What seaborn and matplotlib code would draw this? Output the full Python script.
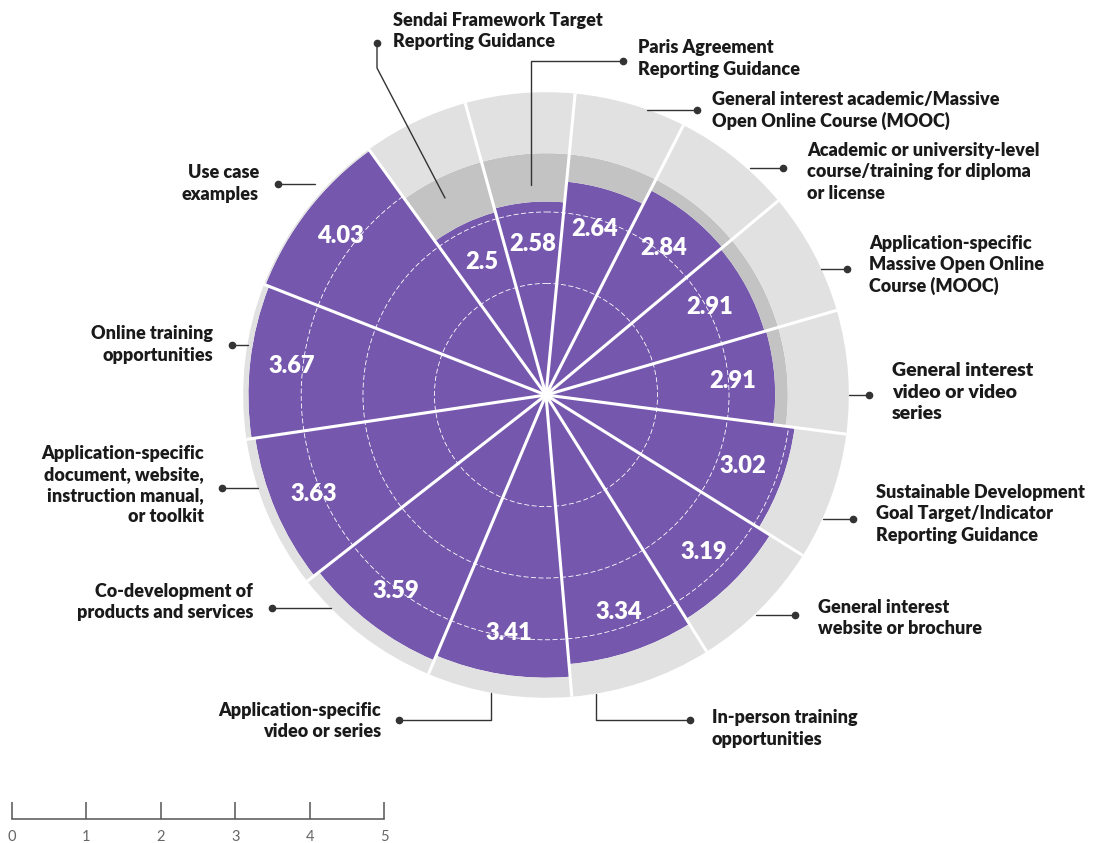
import numpy as np
import pandas as pd
import seaborn as sns
import matplotlib.pyplot as plt

# wedges clockwise from the top-left one
categories = [
    "Sendai Framework Target\nReporting Guidance",
    "Paris Agreement\nReporting Guidance",
    "General interest academic/Massive\nOpen Online Course (MOOC)",
    "Academic or university-level\ncourse/training for diploma\nor license",
    "Application-specific\nMassive Open Online\nCourse (MOOC)",
    "General interest\nvideo or video\nseries",
    "Sustainable Development\nGoal Target/Indicator\nReporting Guidance",
    "General interest\nwebsite or brochure",
    "In-person training\nopportunities",
    "Application-specific\nvideo or series",
    "Co-development of\nproducts and services",
    "Application-specific\ndocument, website,\ninstruction manual,\nor toolkit",
    "Online training\nopportunities",
    "Use case\nexamples",
]
scores = [2.5, 2.58, 2.64, 2.84, 2.91, 2.91, 3.02, 3.19, 3.34, 3.41, 3.59, 3.63, 3.67, 4.03]
# radial extent of each purple wedge (scale-bar units)
reach = [2.55, 2.60, 2.88, 3.09, 3.06, 3.08, 3.37, 3.55, 3.63, 3.80, 3.87, 3.95, 4.00, 4.05]
band_dark = 3.25     # darker gray ring
band_light = 4.07    # outer light gray ring
grid_levels = [1.5, 2.46, 3.29]
scale_ticks = [0, 1, 2, 3, 4, 5]

PURPLE = "#7557ae"
DARK = "#c3c3c3"
LIGHT = "#e1e1e1"
INK = "#1a1a1a"

sns.set_theme(style="white")
plt.rcParams['font.family'] = ['Lato', 'DejaVu Sans']

W, H = 1093, 843
CX, CY = 546, 395
PX = 74.4            # pixels per unit
RMAX = 4.1

fig = plt.figure(figsize=(W / 100, H / 100), dpi=100)
fig.patch.set_facecolor("white")

rpx = RMAX * PX
ax = fig.add_axes([(CX - rpx) / W, (H - CY - rpx) / H, 2 * rpx / W, 2 * rpx / H],
                  projection="polar")
ax.set_theta_zero_location("N")
ax.set_theta_direction(-1)
ax.set_ylim(0, RMAX)
ax.set_facecolor("none")
ax.spines["polar"].set_visible(False)

df = pd.DataFrame({"category": categories, "score": scores, "reach": reach})
df["width"] = df.score / df.score.sum() * 2 * np.pi   # wedge angle ~ score
start = np.radians(-35.8)
df["start"] = start + df.width.cumsum() - df.width
df["mid"] = df.start + df.width / 2

ax.bar(df.start, df.reach, width=df.width, align="edge", color=PURPLE, lw=0, zorder=1)
dark_h = (band_dark - df.reach).clip(lower=0)
ax.bar(df.start, dark_h, width=df.width, bottom=df.reach, align="edge",
       color=DARK, lw=0, zorder=3)
light_bottom = np.maximum(df.reach, band_dark)
ax.bar(df.start, band_light - light_bottom, width=df.width, bottom=light_bottom,
       align="edge", color=LIGHT, lw=0, zorder=3)

# white separators between wedges
for t in df.start:
    ax.plot([t, t], [0, band_light], color="white", lw=2.2, zorder=4,
            solid_capstyle="butt")

# dashed rings (hidden under the gray bands)
ax.set_xticks([])
ax.set_yticks(grid_levels)
ax.set_yticklabels([])
ax.set_axisbelow(False)
ax.yaxis.grid(True, color="white", lw=0.6, ls=(0, (6, 3)))
ax.xaxis.grid(False)

for _, row in df.iterrows():
    ax.text(row.mid, row.reach - 0.56, f"{row.score:g}", color="white",
            fontsize=17, fontweight="heavy", ha="center", va="center", zorder=5)

# labels + leader lines in pixel space
over = fig.add_axes([0, 0, 1, 1], zorder=10)
over.set_xlim(0, W)
over.set_ylim(H, 0)
over.axis("off")
over.patch.set_alpha(0)

layout = [
    (393, 31, "left", [(377, 43), (377, 68), (445, 198)]),
    (638, 58.5, "left", [(623, 61), (531, 61), (531, 185)]),
    (712, 110.5, "left", [(697, 110), (647, 110)]),
    (807, 172, "left", [(783, 168), (750, 168)]),
    (869, 265, "left", [(847, 269), (821, 269)]),
    (892, 392, "left", [(869, 395), (849, 395)]),
    (876, 514, "left", [(853, 519), (823, 519)]),
    (818, 618, "left", [(795, 615), (756, 615)]),
    (712, 728.5, "left", [(690, 720), (596, 720), (596, 694)]),
    (381, 721, "right", [(399, 720), (491, 720), (491, 693)]),
    (253, 602, "right", [(272, 608), (331, 608)]),
    (204, 485, "right", [(222, 488), (258, 488)]),
    (213, 344.5, "right", [(232, 345), (248, 345)]),
    (259, 183.5, "right", [(278, 184), (315, 184)]),
]
for label, (tx, ty, ha, path) in zip(categories, layout):
    size = 14 if label.startswith("General interest\nvideo") else 13
    over.text(tx, ty, label, ha=ha, va="center", fontsize=size, fontweight="heavy",
              color=INK, linespacing=1.3)
    xs, ys = zip(*path)
    over.plot(xs, ys, color="#333333", lw=1)
    over.plot(xs[0], ys[0], "o", color="#333333", ms=4.5)

# scale bar
sb = fig.add_axes([12 / W, (H - 819) / H, 372 / W, 0.03])
sb.set_xlim(0, 5)
sb.set_xticks(scale_ticks)
sb.set_yticks([])
sb.set_facecolor("none")
sns.despine(ax=sb, left=True, top=True, right=True)
sb.spines["bottom"].set_color("#555555")
sb.spines["bottom"].set_linewidth(1.1)
sb.tick_params(axis="x", bottom=True, direction="in", length=12.5, width=1.1,
               color="#555555", labelcolor="#666666", labelsize=10.5, pad=8)

fig.savefig("out.png", dpi=100)
